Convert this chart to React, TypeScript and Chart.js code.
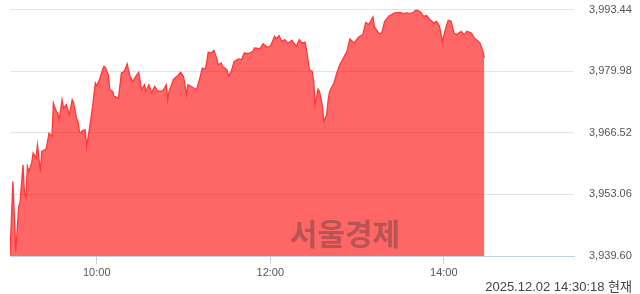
import { useEffect, useRef } from "react";
import { Chart, registerables } from "chart.js";
Chart.register(...registerables);

// minutes since 09:00
const minutes = [
  0, 2, 4, 6, 7, 9, 10, 11, 12, 13,
  15, 16, 18, 19, 21, 22, 25, 27, 29, 30,
  32, 33, 34, 36, 37, 39, 41, 43, 44, 46,
  47, 48, 49, 50, 52, 53, 55, 57, 59, 60,
  62, 64, 65, 66, 68, 69, 71, 72, 75, 77,
  79, 81, 83, 85, 87, 89, 91, 93, 94, 96,
  98, 100, 102, 104, 106, 108, 109, 110, 113, 115,
  116, 118, 120, 122, 123, 126, 129, 131, 133, 135,
  136, 137, 139, 141, 143, 144, 146, 147, 150, 151,
  153, 155, 158, 160, 162, 165, 168, 169, 173, 175,
  178, 180, 183, 184, 186, 188, 190, 192, 195, 198,
  200, 202, 204, 205, 207, 209, 210, 211, 213, 214,
  216, 217, 219, 220, 221, 224, 226, 228, 230, 233,
  235, 238, 241, 244, 246, 248, 251, 252, 255, 257,
  259, 262, 264, 266, 270, 272, 274, 277, 279, 281,
  284, 286, 288, 290, 293, 295, 297, 299, 301, 303,
  305, 307, 309, 312, 314, 316, 319, 321, 324, 325,
  327, 328,
];

const values = [
  3940.04, 3955.86, 3940.54, 3950.39, 3951.48, 3959.52, 3953.39, 3952.29, 3959.15, 3958.05,
  3959.95, 3962.14, 3961.05, 3963.89, 3958.05, 3962.43, 3962.95, 3966.45, 3965.71, 3973.02,
  3971.18, 3970.9, 3969.37, 3973.74, 3971.93, 3972.65, 3970.46, 3973.74, 3973.02, 3969.74,
  3968.99, 3966.8, 3966.45, 3967.02, 3967.18, 3963.52, 3967.55, 3971.99, 3977.4, 3976.81,
  3978.27, 3980.31, 3981.03, 3980.75, 3979.21, 3975.93, 3975.56, 3974.46, 3974.11, 3979.59,
  3979.94, 3981.56, 3978.84, 3977.75, 3978.84, 3979.72, 3975.93, 3977.03, 3975.56, 3977.03,
  3975.21, 3976.65, 3975.71, 3975.56, 3975.8, 3977.03, 3973.74, 3975.56, 3978.12, 3978.78,
  3979.0, 3979.72, 3978.84, 3974.84, 3977.03, 3976.52, 3975.93, 3978.12, 3980.68, 3980.46,
  3981.77, 3984.09, 3983.92, 3984.53, 3982.72, 3981.4, 3981.77, 3981.03, 3980.31, 3978.89,
  3979.94, 3982.12, 3982.65, 3982.5, 3983.96, 3983.81, 3984.31, 3985.06, 3984.9, 3986.0,
  3985.19, 3985.41, 3987.6, 3987.03, 3987.75, 3986.5, 3986.87, 3986.15, 3986.72, 3985.41,
  3986.87, 3986.15, 3986.28, 3984.69, 3980.31, 3979.94, 3977.75, 3972.65, 3976.08, 3975.56,
  3972.43, 3968.99, 3970.46, 3973.74, 3975.56, 3977.4, 3979.59, 3981.4, 3982.5, 3984.31,
  3987.03, 3986.15, 3987.42, 3987.97, 3990.66, 3990.16, 3991.84, 3989.61, 3988.34, 3988.2,
  3990.81, 3992.06, 3992.35, 3992.72, 3992.85, 3992.56, 3992.72, 3992.56, 3992.85, 3993.44,
  3992.89, 3991.97, 3992.13, 3991.4, 3990.53, 3990.88, 3989.79, 3986.5, 3989.06, 3991.1,
  3990.88, 3988.34, 3987.97, 3988.69, 3987.97, 3988.69, 3988.34, 3987.25, 3986.5, 3986.15,
  3984.31, 3982.87,
];

const yTicks = [3939.6, 3953.06, 3966.52, 3979.98, 3993.44];
const xTicks = [60, 180, 300];
const xTickLabels = ["10:00", "12:00", "14:00"];
const watermark = "서울경제";
const timestamp = "2025.12.02 14:30:18 현재";

const FONT = "'Liberation Sans', Arial, sans-serif";

export default function App() {
  const ref = useRef<HTMLCanvasElement>(null);

  useEffect(() => {
    if (!ref.current) return;
    const overlay = {
      id: "overlay",
      afterDatasetsDraw(chart: any) {
        const ctx = chart.ctx;
        ctx.save();
        ctx.font = "bold 30px 'Noto Sans CJK KR', sans-serif";
        ctx.fillStyle = "rgba(40,40,40,0.32)";
        ctx.textAlign = "center";
        ctx.textBaseline = "middle";
        ctx.fillText(watermark, 345, 234);
        ctx.restore();
      },
      afterDraw(chart: any) {
        const ctx = chart.ctx;
        ctx.save();
        ctx.font = "13px 'Liberation Sans', 'Noto Sans CJK KR', sans-serif";
        ctx.fillStyle = "#444";
        ctx.textAlign = "right";
        ctx.textBaseline = "middle";
        ctx.fillText(timestamp, 632, 287);
        ctx.restore();
      },
    };

    const chart = new Chart(ref.current, {
      type: "line",
      data: {
        datasets: [
          {
            data: minutes.map((m, i) => ({ x: m, y: values[i] })),
            borderColor: "rgb(255,55,55)",
            backgroundColor: "rgba(255,0,0,0.6)",
            borderWidth: 1.3,
            fill: "start",
            pointRadius: 0,
            tension: 0,
          },
        ],
      },
      options: {
        animation: false,
        responsive: false,
        maintainAspectRatio: false,
        layout: { padding: { left: 10, top: 0, right: 0, bottom: 0 } },
        plugins: { legend: { display: false }, tooltip: { enabled: false } },
        scales: {
          x: {
            type: "linear",
            min: 0,
            max: 390,
            afterBuildTicks: (s: any) => {
              s.ticks = xTicks.map((v) => ({ value: v }));
            },
            afterFit: (s: any) => {
              s.height = 38;
            },
            ticks: {
              autoSkip: false,
              maxRotation: 0,
              padding: 2,
              color: "#555",
              font: { family: FONT, size: 11 },
              callback: (v: any) => {
                const i = xTicks.indexOf(Number(v));
                return i >= 0 ? xTickLabels[i] : "";
              },
            },
            grid: { drawOnChartArea: false, drawTicks: true, tickLength: 8, color: "#c3d2ea" },
            border: { color: "#c3d2ea" },
          },
          y: {
            position: "right",
            min: 3939.6,
            max: 3993.44,
            afterBuildTicks: (s: any) => {
              s.ticks = yTicks.map((v) => ({ value: v }));
            },
            afterFit: (s: any) => {
              s.width = 66;
            },
            ticks: {
              padding: 3,
              color: "#555",
              font: { family: FONT, size: 11 },
              callback: (v: any) =>
                Number(v).toLocaleString("en-US", { minimumFractionDigits: 2, maximumFractionDigits: 2 }),
            },
            grid: { color: "#e3e3e3", drawTicks: true, tickLength: 12, tickColor: "rgba(0,0,0,0)" },
            border: { display: false },
          },
        },
      },
      plugins: [overlay],
    } as any);
    return () => chart.destroy();
  }, []);

  return (
    <div style={{ position: "fixed", left: 0, top: 0, width: 640, height: 294, background: "#fff" }}>
      <canvas ref={ref} width={640} height={294} style={{ width: 640, height: 294, display: "block" }} />
    </div>
  );
}
